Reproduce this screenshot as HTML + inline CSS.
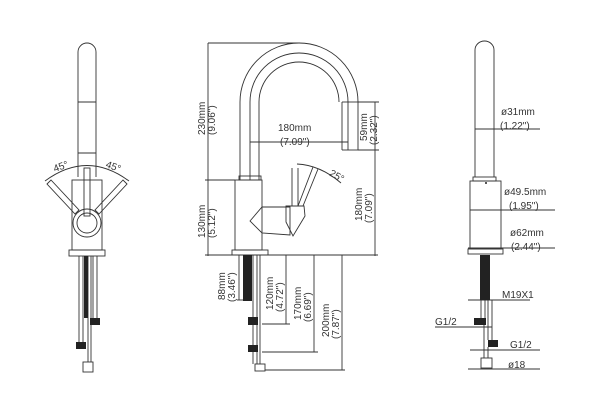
<!DOCTYPE html>
<html><head><meta charset="utf-8"><style>
html,body{margin:0;padding:0;background:#fff;width:600px;height:400px;overflow:hidden}
svg text{font-family:"Liberation Sans",sans-serif;fill:#333;font-size:10px}
</style></head><body>
<svg width="600" height="400" viewBox="0 0 600 400" xmlns="http://www.w3.org/2000/svg">
<g fill="none" stroke="#333" stroke-width="0.9">
<path d="M78,177 V52 A9,9 0 0 1 96,52 V177"/>
<line x1="78" y1="102" x2="96" y2="102"/>
<line x1="78" y1="153" x2="96" y2="153"/>
<rect x="72" y="180" width="30" height="70"/>
<rect x="69" y="250" width="36" height="6"/>
<rect x="84" y="168" width="6" height="48"/>
<circle cx="87" cy="223" r="14"/>
<circle cx="87" cy="223" r="10"/>
<path d="M47,184 L51,180 L79,210 L75,214 Z"/>
<path d="M127,184 L123,180 L95,210 L99,214 Z"/>
<path d="M45,181 Q87,150 129,181"/>
<line x1="79" y1="256" x2="79" y2="342"/>
<line x1="83" y1="256" x2="83" y2="342"/>
<line x1="88" y1="256" x2="88" y2="362"/>
<line x1="91" y1="256" x2="91" y2="362"/>
<line x1="93" y1="256" x2="93" y2="318"/>
<line x1="97" y1="256" x2="97" y2="318"/>
<rect x="83" y="362" width="10" height="10"/>
<path d="M240,180 V102 A59,59 0 0 1 358,102 V150"/>
<path d="M250,180 V102 A49,49 0 0 1 348,102 V150"/>
<path d="M259,180 V102 A40,40 0 0 1 339,102"/>
<line x1="342" y1="102" x2="358" y2="102"/>
<line x1="342" y1="102" x2="342" y2="150"/>
<line x1="342" y1="150" x2="358" y2="150"/>
<rect x="239" y="176" width="22" height="4"/>
<rect x="235" y="180" width="27" height="70"/>
<path d="M250,221 L262,207 L290,207 L290,235 L262,233 Z"/>
<path d="M286,206 L304,206 L305,216 L293,236 L286,222 Z"/>
<line x1="292" y1="168" x2="292" y2="206"/>
<line x1="298" y1="168" x2="298" y2="206"/>
<line x1="313" y1="167" x2="298" y2="206"/>
<line x1="318" y1="169" x2="303" y2="206"/>
<path d="M297,164 Q320,165 341,183"/>
<rect x="232" y="250" width="36" height="5"/>
<line x1="253" y1="255" x2="253" y2="364"/>
<line x1="257" y1="255" x2="257" y2="364"/>
<line x1="260" y1="255" x2="260" y2="364"/>
<rect x="255" y="364" width="10" height="7"/>
<line x1="208" y1="43" x2="300" y2="43"/>
<line x1="208" y1="43" x2="208" y2="256"/>
<line x1="205" y1="180" x2="235" y2="180"/>
<line x1="205" y1="255" x2="378" y2="255"/>
<line x1="250" y1="142" x2="348" y2="142"/>
<line x1="358" y1="102" x2="379" y2="102"/>
<line x1="358" y1="150" x2="379" y2="150"/>
<line x1="375" y1="102" x2="375" y2="256"/>
<line x1="237" y1="300" x2="246" y2="300"/>
<line x1="239" y1="255" x2="239" y2="300"/>
<line x1="286" y1="255" x2="286" y2="324"/>
<line x1="262" y1="324" x2="290" y2="324"/>
<line x1="314" y1="255" x2="314" y2="352"/>
<line x1="262" y1="352" x2="318" y2="352"/>
<line x1="342" y1="255" x2="342" y2="370"/>
<line x1="265" y1="370" x2="345" y2="370"/>
<path d="M475,177 V50 A9.5,9 0 0 1 494,50 V177"/>
<rect x="473" y="177" width="23" height="4"/>
<rect x="470" y="181" width="31" height="68"/>
<rect x="468" y="249" width="35" height="5"/>
<line x1="481" y1="300" x2="481" y2="318"/>
<line x1="485" y1="300" x2="485" y2="318"/>
<line x1="488" y1="300" x2="488" y2="340"/>
<line x1="492" y1="300" x2="492" y2="340"/>
<line x1="484" y1="325" x2="484" y2="358"/>
<line x1="488" y1="347" x2="488" y2="358"/>
<rect x="481" y="358" width="11" height="10"/>
<line x1="475" y1="129" x2="540" y2="129"/>
<line x1="470" y1="210" x2="555" y2="210"/>
<line x1="468" y1="248" x2="555" y2="248"/>
<line x1="468" y1="300" x2="530" y2="300"/>
<line x1="435" y1="327" x2="492" y2="327"/>
<line x1="470" y1="350" x2="540" y2="350"/>
<line x1="468" y1="369" x2="540" y2="369"/>
</g>
<g fill="#222">
<rect x="84" y="256" width="4" height="62"/>
<rect x="76" y="342" width="10" height="7"/>
<rect x="90" y="318" width="10" height="7"/>
<rect x="243" y="255" width="9" height="46"/>
<rect x="248" y="317" width="10" height="8"/>
<rect x="248" y="345" width="10" height="7"/>
<rect x="480" y="255" width="10" height="45"/>
<rect x="474" y="318" width="12" height="7"/>
<rect x="488" y="340" width="10" height="7"/>
<circle cx="486" cy="183" r="1"/>
</g>
<text x="53" y="170" transform="rotate(-20 60 166)">45°</text>
<text x="106" y="170" transform="rotate(20 114 166)">45°</text>
<text x="278" y="131">180mm</text>
<text x="280" y="145">(7.09")</text>
<text x="330" y="178" transform="rotate(30 335 174)">25°</text>
<text transform="translate(205,135) rotate(-90)">230mm</text>
<text transform="translate(215,135) rotate(-90)">(9.06")</text>
<text transform="translate(205,238) rotate(-90)">130mm</text>
<text transform="translate(215,238) rotate(-90)">(5.12")</text>
<text transform="translate(367,141) rotate(-90)">59mm</text>
<text transform="translate(377,145) rotate(-90)">(2.32")</text>
<text transform="translate(362,221) rotate(-90)">180mm</text>
<text transform="translate(372,223) rotate(-90)">(7.09")</text>
<text transform="translate(225,300) rotate(-90)">88mm</text>
<text transform="translate(235,302) rotate(-90)">(3.46")</text>
<text transform="translate(273,310) rotate(-90)">120mm</text>
<text transform="translate(283,312) rotate(-90)">(4.72")</text>
<text transform="translate(301,320) rotate(-90)">170mm</text>
<text transform="translate(311,322) rotate(-90)">(6.69")</text>
<text transform="translate(329,337) rotate(-90)">200mm</text>
<text transform="translate(339,339) rotate(-90)">(7.87")</text>
<text x="501" y="115">ø31mm</text>
<text x="500" y="129">(1.22")</text>
<text x="504" y="195">ø49.5mm</text>
<text x="509" y="209">(1.95")</text>
<text x="510" y="236">ø62mm</text>
<text x="511" y="250">(2.44")</text>
<text x="502" y="298">M19X1</text>
<text x="435" y="325">G1/2</text>
<text x="510" y="348">G1/2</text>
<text x="508" y="368">ø18</text>
</svg>
</body></html>
